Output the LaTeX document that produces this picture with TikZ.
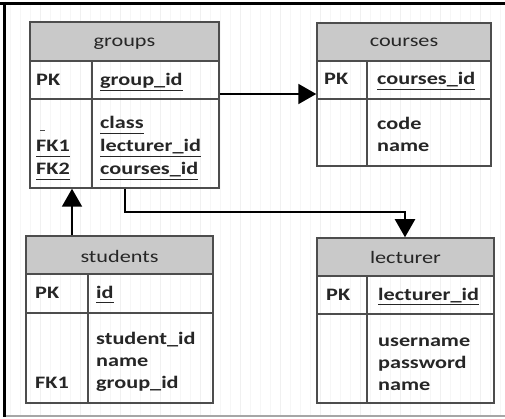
\documentclass[tikz,border=0pt]{standalone}
\usepackage{fontspec}
\setmainfont{Carlito}
\usepackage{graphicx}
\usetikzlibrary{arrows.meta,fit}

\definecolor{headfill}{HTML}{C9C9C9}
\definecolor{tline}{HTML}{4D4D4D}
\definecolor{txt}{HTML}{262626}

% widened text, as the table fonts are set
\newcommand{\wtext}[1]{\scalebox{1.27}[1]{#1}}
\newcommand{\ufield}[1]{\underline{#1\vphantom{gp\_}}}

% one entity table: name, x1, y1, x2, y2, header bottom, key-row bottom, column divider
\newcommand{\erdtable}[8]{%
  \fill[headfill] (#2,#3) rectangle (#4,#6);
  \draw[rowline] (#2,#6) -- (#4,#6);
  \draw[rowline] (#2,#7) -- (#4,#7);
  \draw[rowline] (#8,#6) -- (#8,#5);
  \node[tablebox, fit={(#2,#3) (#4,#5)}] (#1) {};
}

\begin{document}
\begin{tikzpicture}[x=1pt,y=-1pt,
  rowline/.style={draw=tline, line width=1.5pt},
  tablebox/.style={draw=tline, line width=1.5pt, inner sep=0pt},
  headtxt/.style={text=txt, inner sep=0pt, anchor=base, font=\fontsize{17.5}{21}\selectfont},
  celltxt/.style={text=txt, inner sep=0pt, anchor=base west, font=\fontsize{17.5}{21}\selectfont\bfseries},
  conn/.style={draw=black, line width=2pt, -{Triangle[length=18pt,width=20pt]}}]

\useasboundingbox (0,0) rectangle (505,419);
\fill[white] (0,0) rectangle (505,419);

% background grid
\draw[gray!7, line width=0.6pt] (5,5) grid[step=10] (505,415);
\draw[gray!12, line width=0.8pt] (5,5) grid[step=40] (505,415);

% frame
\draw[gray!70, line width=1.5pt] (4,416) -- (505,416);
\draw[black, line width=3pt] (0,3.5) -- (505,3.5);
\draw[black, line width=3pt] (4,2) -- (4,417);

% tables
\erdtable{groups}{30}{22}{219}{188}{61}{99}{92}
\erdtable{courses}{317}{23}{491}{166}{61}{99}{367}
\erdtable{students}{26}{236}{213}{403}{274}{313}{88}
\erdtable{lecturer}{317}{238}{494}{403}{276}{314}{367}

% groups
\node[headtxt] (groups-h) at (124.5,47) {\wtext{groups}};
\node[celltxt] (groups-pk) at (36,86) {\wtext{PK}};
\node[celltxt] (groups-k) at (100,86) {\wtext{\ufield{group\_id}}};
\draw[tline, line width=1pt] (40,131) -- (45,131);
\node[celltxt] (groups-f1) at (100,129) {\wtext{\ufield{class}}};
\node[celltxt] (groups-fk1) at (36,152) {\wtext{\ufield{FK1}}};
\node[celltxt] (groups-f2) at (100,152) {\wtext{\ufield{lecturer\_id}}};
\node[celltxt] (groups-fk2) at (36,175) {\wtext{\ufield{FK2}}};
\node[celltxt] (groups-f3) at (100,175) {\wtext{\ufield{courses\_id}}};

% courses
\node[headtxt] (courses-h) at (404,47) {\wtext{courses}};
\node[celltxt] (courses-pk) at (324,85) {\wtext{PK}};
\node[celltxt] (courses-k) at (377,85) {\wtext{\ufield{courses\_id}}};
\node[celltxt] (courses-f1) at (377,130) {\wtext{code}};
\node[celltxt] (courses-f2) at (377,152) {\wtext{name}};

% students
\node[headtxt] (students-h) at (119.5,262) {\wtext{students}};
\node[celltxt] (students-pk) at (35,298) {\wtext{PK}};
\node[celltxt] (students-k) at (96,298) {\wtext{\ufield{id}}};
\node[celltxt] (students-f1) at (96,344) {\wtext{student\_id}};
\node[celltxt] (students-f2) at (96,366) {\wtext{name}};
\node[celltxt] (students-fk1) at (35,388) {\wtext{FK1}};
\node[celltxt] (students-f3) at (96,388) {\wtext{group\_id}};

% lecturer
\node[headtxt] (lecturer-h) at (405.5,263) {\wtext{lecturer}};
\node[celltxt] (lecturer-pk) at (326,300) {\wtext{PK}};
\node[celltxt] (lecturer-k) at (378,300) {\wtext{\ufield{lecturer\_id}}};
\node[celltxt] (lecturer-f1) at (378,346) {\wtext{username}};
\node[celltxt] (lecturer-f2) at (378,368) {\wtext{password}};
\node[celltxt] (lecturer-f3) at (378,390) {\wtext{name}};

% relationships
\coordinate (rowy) at (0,94);
\coordinate (upx) at (72,0);
\coordinate (bendA) at (125,212);
\coordinate (bendB) at (405,212);
\draw[conn] (groups.east |- rowy) -- (courses.west |- rowy);
\draw[conn] (students.north -| upx) -- (groups.south -| upx);
\draw[conn] (groups.south -| bendA) -- (bendA) -- (bendB) -- (lecturer.north -| bendB);
\end{tikzpicture}
\end{document}
